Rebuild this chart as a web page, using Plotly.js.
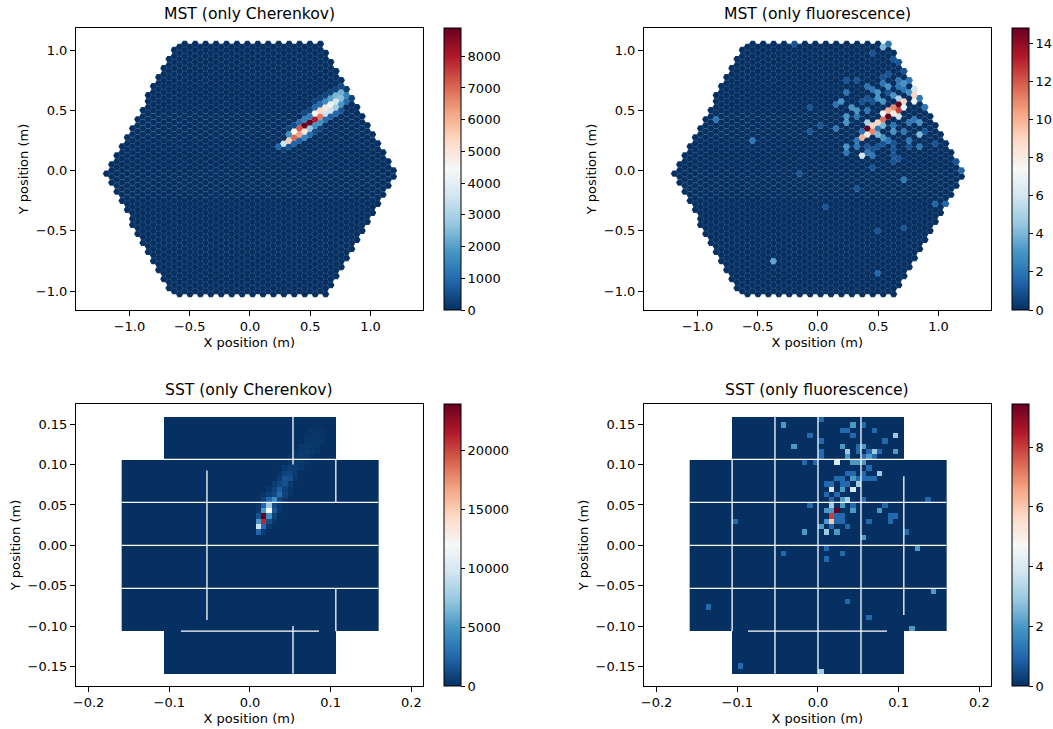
<!DOCTYPE html>
<html><head><meta charset="utf-8">
<script src="https://cdn.plot.ly/plotly-3.0.1.min.js"></script>
<style>html,body{margin:0;padding:0;background:#fff}</style></head>
<body><div id="chart" style="width:1053px;height:729px"></div>
<script>
// ---- data -----------------------------------------------------------------
const panelTitles = ["MST (only Cherenkov)", "MST (only fluorescence)", "SST (only Cherenkov)", "SST (only fluorescence)"];
const xLabel = "X position (m)";
const yLabel = "Y position (m)";
const cbarMax = [8890, 14.8, 23900, 9.45];
const cbarTicks = [[0,1000,2000,3000,4000,5000,6000,7000,8000],[0,2,4,6,8,10,12,14],[0,5000,10000,15000,20000],[0,2,4,6,8]];
const mstTicksX = [-1,-0.5,0,0.5,1];
const mstTicksY = [-1,-0.5,0,0.5,1];
const sstTicksX = [-0.2,-0.1,0,0.1,0.2];
const sstTicksY = [-0.15,-0.1,-0.05,0,0.05,0.1,0.15];

// MST pixels above the pedestal: [x (m), y (m), photo-electrons]
const mstCherenkov = [[.235,.203,900],[.277,.225,3500],[.324,.250,5500],[.324,.300,1700],[.368,.275,7000],[.368,.325,4450],
[.409,.300,6300],[.409,.350,7200],[.454,.325,5000],[.454,.375,8900],[.495,.400,8900],[.539,.425,8000],[.584,.449,6800],
[.539,.474,4500],[.584,.499,5400],[.625,.524,5000],[.669,.549,4300],[.714,.574,3600],[.495,.350,2700],[.539,.375,1700],
[.584,.400,1700],[.625,.474,3500],[.625,.425,1000],[.669,.499,3500],[.714,.524,2900],[.755,.549,1800],[.799,.574,1000],
[.669,.599,2000],[.714,.624,2400],[.755,.649,2300],[.799,.674,2000],[.755,.599,2600],[.799,.624,1500],[.625,.574,1600],
[.584,.549,1000],[.539,.524,900],[.714,.474,900],[.755,.499,600],[.669,.449,800],[.368,.225,800],[.409,.250,800],
[.454,.275,1500],[.324,.200,600],[.277,.176,300],[.495,.300,1000],[.539,.325,500],[.584,.350,300],[.324,.350,300],
[.368,.375,400],[.409,.400,1000],[.454,.425,1400],[.495,.449,1300],[.454,.475,400],[.495,.500,300],[.539,.574,300],
[.584,.600,300],[.625,.624,300],[.669,.649,300],[.714,.674,300],[.755,.699,400],[.799,.724,400],[.841,.674,500],
[.841,.624,300],[.841,.724,200]];

const mstFluorescence = [[.534,1.028,4],[.578,1.05,2],[.448,.978,1],[.622,.925,1],[.667,.900,1],[.711,.823,1],[.232,.751,1],
[.318,.751,1],[.534,.779,1],[.578,.779,1],[.404,.701,2],[.534,.723,2],[.578,.701,3],[.667,.751,2],[.711,.723,3],[.752,.751,2],
[.667,.701,2],[.711,.674,2],[.797,.674,6],[.752,.649,3],[.448,.674,2],[.492,.649,3],[.232,.649,2],[.188,.577,3],[.144,.552,2],
[.404,.599,1],[.362,.577,1],[.448,.552,1],[.274,.527,3],[.318,.502,3],[.232,.452,3],[.232,.400,3],[.318,.452,2],[.404,.502,2],
[.492,.577,3],[.534,.577,3],[.578,.649,1],[.622,.627,3],[.667,.599,5],[.797,.627,9],[.797,.577,7],[.841,.599,2],[.882,.527,2],
[.708,.577,9],[.667,.552,15],[.622,.527,11],[.578,.502,10],[.534,.475,7],[.578,.452,15],[.622,.475,8],[.667,.502,12.5],
[.708,.527,7],[.667,.452,6],[.534,.425,11.5],[.492,.400,9],[.448,.375,9],[.404,.400,5],[.404,.350,15],[.362,.325,2],[.492,.350,2],
[.534,.375,4],[.362,.275,10],[.404,.300,8],[.448,.325,11],[.492,.300,4],[.534,.275,3],[.622,.325,3],[.622,.375,2],[.708,.325,2],
[.797,.425,2],[.841,.400,3],[.752,.400,2],[.841,.300,4],[.752,.253,2],[.841,.198,2],[.232,.198,3],[.232,.148,2],[.318,.198,2],
[.362,.123,6],[.404,.148,2],[.448,.123,3],[.448,.198,1],[.404,.225,1],[.318,.253,2],[.534,.225,1],[.622,.170,1],[.667,.098,1],
[.448,.032,2],[.144,.350,2],[.017,.375,1],[.492,.225,1],[.578,.253,2],[.882,.325,1],[.971,.225,1],[1.148,.073,1],
[-.548,.248,2],[-.158,-.024,1],[-.072,.322,1],[.448,.126,2],[.492,.203,1],[.448,.026,1],[.622,.225,1],[.622,.176,1],[.622,.126,1],
[.622,.076,1],[.708,-.073,2],[.752,.198,1],[.968,.225,1],[.968,-.275,1.5],[1.054,-.275,1.5],[1.142,.076,1],[1.187,0,1.5],
[.321,-.151,1],[.061,-.300,1],[.492,-.499,1],[.708,-.474,1],[-.373,-.748,3.5],[.492,-.851,1.5],[-.202,1.05,1],[-.069,.524,1],
[.017,.375,1],[-.069,.325,1],[-.849,.425,2]];

// SST pixels above the pedestal: [column, row from the top, value]
const sstCherenkov = [[25,21,2400],[26,21,500],[25,20,9500],[26,20,2600],[27,20,400],[25,19,5000],[26,19,21000],[27,19,1300],[28,19,300],
[25,18,1500],[26,18,23900],[27,18,4500],[28,18,800],[25,17,300],[26,17,5000],[27,17,12000],[28,17,1800],[29,17,400],
[25,16,200],[26,16,2400],[27,16,7500],[28,16,1200],[29,16,300],[26,15,700],[27,15,2400],[28,15,4500],[29,15,1000],[30,15,300],
[26,14,200],[27,14,700],[28,14,1200],[29,14,2600],[30,14,900],[31,14,300],[27,13,300],[28,13,800],[29,13,2000],[30,13,700],[31,13,200],
[28,12,500],[29,12,1000],[30,12,1400],[31,12,500],[29,11,500],[30,11,1500],[31,11,1300],[32,11,300],[29,10,300],[30,10,900],[31,10,1000],[32,10,500],
[30,9,400],[31,9,600],[32,9,500],[33,9,300],[31,8,300],[32,8,400],[33,8,350],[34,8,200],[31,7,200],[32,7,400],[33,7,500],[34,7,400],[35,7,200],
[32,6,300],[33,6,400],[34,6,500],[35,6,350],[36,6,200],[33,5,300],[34,5,400],[35,5,350],[36,5,250],[34,4,300],[35,4,300],[36,4,300],[37,4,200],
[34,3,200],[35,3,250],[36,3,300],[37,3,200],[35,2,200],[36,2,200],[37,2,150]];

const sstFluorescence = [[24,0,1],[17,1,2],[30,1,2],[32,1,1],[28,2,1],[29,2,1],[34,2,1],[22,3,1],[30,3,1],[38,3,3],[24,4,1],[36,4,1],
[19,5,2],[28,5,2],[31,5,1],[32,5,2],[29,6,3],[24,6,1],[31,6,1],[33,6,1],[34,6,3],[35,6,1],[38,6,2],[24,7,1],[29,7,2],[32,7,1],[33,7,2],[34,7,1],
[21,8,1],[23,8,1],[27,8,4],[30,8,2],[31,8,2],[32,8,2],[33,9,1],[29,10,1],[30,10,1],[32,10,1],[35,10,3],
[27,11,1],[28,11,1],[30,11,2],[31,11,1],[32,11,1],[33,11,1],[34,11,1],[25,12,1],[26,12,1],[28,12,1],[29,12,1],[31,12,3],
[26,13,4],[28,13,2],[30,13,4],[25,14,1],[27,14,1],[26,15,1],[28,15,2],[29,15,3],[32,15,1],[44,15,1],
[22,16,1],[26,16,3],[28,16,2],[30,16,1],[36,16,1],[25,17,2],[26,17,2],[27,17,9.4],[30,17,2],[35,17,2],
[26,18,8],[27,18,1],[28,18,1],[37,18,1],[38,18,1],[8,19,1],[25,19,2],[26,19,6],[27,19,1],[28,19,1],[33,19,1],[37,19,1],
[24,20,2],[26,20,1],[29,20,1],[21,21,2],[25,21,3],[27,21,2],[40,21,1],[32,22,2],
[25,24,1],[42,24,2],[17,25,1],[28,25,1],[25,26,1],[45,32,2],[3,35,1],[29,34,1],[33,37,1],[41,39,2],[9,46,1],[24,47,3]];

// Module seams of the SST camera, metres: [fixed coordinate, from, to]
const sstChSeamsH = [[.1064,-.159,.159],[.0533,-.159,.159],[0,-.159,.159],[-.0533,-.159,.159],[-.1064,-.0855,.0855]];
const sstChSeamsV = [[-.0533,-.0926,.0926],[.0533,.1,.159],[.0533,-.159,-.1],[.1064,.0533,.1064],[.1064,-.1064,-.0533]];
const sstFlSeamsH = [[.1064,-.159,.159],[.0533,-.159,.159],[0,-.159,.159],[-.0533,-.159,.159],[-.1064,-.0867,.0855]];
const sstFlSeamsV = [[-.1064,-.1064,.1064],[-.0533,-.159,.159],[0,-.159,.159],[.0533,-.159,.159],[.1064,-.0863,.0855]];

const rdbuR = [[0,"#053061"],[.1,"#2166ac"],[.2,"#4393c3"],[.3,"#92c5de"],[.4,"#d1e5f0"],[.5,"#f7f7f7"],[.6,"#fddbc7"],[.7,"#f4a582"],[.8,"#d6604d"],[.9,"#b2182b"],[1,"#67001f"]];

// ---- camera geometry -------------------------------------------------------
function mstCamera(){
  const xs=[],ys=[];
  for(let k=-28;k<28;k++){
    const x=(k+.5)*.0433, odd=Math.abs(k)%2===1;
    for(let n=-22;n<23;n++){
      const y=odd? n*.05 : .025+n*.05;
      if(y>1.055||y<-1.03) continue;
      if(y>1.763*(1.182-Math.abs(x))+.03) continue;
      if(y<-1.763*(1.19-Math.abs(x))-.07) continue;
      xs.push(x);ys.push(y);
    }
  }
  return {xs,ys};
}
function mstValues(cam,pix){
  const v=cam.xs.map(()=>0);
  pix.forEach(p=>{
    let best=0,d=1e9;
    cam.xs.forEach((x,i)=>{const e=(x-p[0])**2+(cam.ys[i]-p[1])**2;if(e<d){d=e;best=i;}});
    v[best]=p[2];
  });
  return v;
}
function sstGrid(pix){
  const z=[];
  for(let r=0;r<48;r++){
    const row=[];
    for(let c=0;c<48;c++){
      const corner=(c<8||c>=40)&&(r<8||r>=40);
      row.push(corner?null:0);
    }
    z.push(row);
  }
  pix.forEach(p=>{z[47-p[1]][p[0]]=p[2];});
  return z;
}
const sstEdges=[];for(let i=0;i<=48;i++)sstEdges.push(-.159+i*.318/48);
function seamXY(h,v){
  const x=[],y=[];
  h.forEach(s=>{x.push(s[1],s[2],null);y.push(s[0],s[0],null);});
  v.forEach(s=>{x.push(s[0],s[0],null);y.push(s[1],s[2],null);});
  return {x,y};
}

// ---- layout helpers --------------------------------------------------------
const W=1053,H=729;
const FONT="DejaVu Sans, sans-serif";
const boxes=[[75.5,28],[643.5,28],[75.5,404],[643.5,404]];
const PW=347.5,PH=282;
const TICK=13;
function cbar(i){
  const b=boxes[i];
  return {x:(b[0]+368.5)/W,xanchor:"left",xpad:0,ypad:0,y:1-(b[1]+PH/2)/H,yanchor:"middle",len:PH/H,lenmode:"fraction",
    thickness:17,thicknessmode:"pixels",outlinewidth:1,outlinecolor:"#000",
    tickmode:"array",tickvals:cbarTicks[i],ticktext:cbarTicks[i].map(String),ticks:"outside",ticklen:4,tickwidth:1,tickcolor:"#000",
    tickfont:{family:FONT,size:TICK,color:"#000"}};
}
const cam=mstCamera();
function mstTrace(i,pix,ax,ay){
  return {type:"scatter",mode:"markers",x:cam.xs,y:cam.ys,xaxis:ax,yaxis:ay,hoverinfo:"skip",showlegend:false,
    marker:{symbol:"hexagon2",size:7.4,color:mstValues(cam,pix),colorscale:rdbuR,cmin:0,cmax:cbarMax[i],showscale:true,colorbar:cbar(i),line:{width:0.5,color:"rgba(255,255,255,0.17)"}}};
}
function sstTrace(i,pix,ax,ay){
  return {type:"heatmap",x:sstEdges,y:sstEdges,z:sstGrid(pix),xaxis:ax,yaxis:ay,hoverinfo:"skip",
    colorscale:rdbuR,zmin:0,zmax:cbarMax[i],showscale:true,colorbar:cbar(i)};
}
function seamTrace(h,v,ax,ay){
  const s=seamXY(h,v);
  return {type:"scatter",mode:"lines",x:s.x,y:s.y,xaxis:ax,yaxis:ay,hoverinfo:"skip",showlegend:false,connectgaps:false,line:{color:"#fff",width:1.3}};
}
const data=[
  mstTrace(0,mstCherenkov,"x","y"),
  mstTrace(1,mstFluorescence,"x2","y2"),
  sstTrace(2,sstCherenkov,"x3","y3"),
  sstTrace(3,sstFluorescence,"x4","y4"),
  seamTrace(sstChSeamsH,sstChSeamsV,"x3","y3"),
  seamTrace(sstFlSeamsH,sstFlSeamsV,"x4","y4")
];
function axis(common){
  return Object.assign({showgrid:false,zeroline:false,showline:true,mirror:true,linecolor:"#000",linewidth:1,ticks:"outside",ticklen:4.5,tickwidth:1,tickcolor:"#000",
    tickfont:{family:FONT,size:TICK,color:"#000"},tickmode:"array",automargin:false},common);
}
const layout={width:W,height:H,margin:{l:0,r:0,t:0,b:0},paper_bgcolor:"#fff",plot_bgcolor:"#fff",showlegend:false,
  font:{family:FONT,color:"#000"},annotations:[]};
boxes.forEach((b,i)=>{
  const n=i===0?"":String(i+1);
  const mst=i<2;
  const xr=mst?[-1.448,1.436]:[-.2162,.2144];
  const yr=mst?[-1.157,1.183]:[-.1743,.1751];
  layout["xaxis"+n]=axis({domain:[b[0]/W,(b[0]+PW)/W],anchor:"y"+n,range:xr,
    tickvals:mst?mstTicksX:sstTicksX,ticktext:(mst?mstTicksX:sstTicksX).map(v=>(v<0?"\u2212":"")+Math.abs(v).toFixed(1)),
    title:{text:xLabel,font:{family:FONT,size:TICK,color:"#000"},standoff:4}});
  layout["yaxis"+n]=axis({domain:[1-(b[1]+PH)/H,1-b[1]/H],anchor:"x"+n,range:yr,
    tickvals:mst?mstTicksY:sstTicksY,ticktext:(mst?mstTicksY:sstTicksY).map(v=>(v<0?"\u2212":"")+Math.abs(v).toFixed(mst?1:2)),
    title:{text:yLabel,font:{family:FONT,size:TICK,color:"#000"},standoff:4}});
  layout.annotations.push({text:panelTitles[i],xref:"paper",yref:"paper",x:(b[0]+PW/2)/W,y:1-(b[1]-3)/H,xanchor:"center",yanchor:"bottom",showarrow:false,
    font:{family:FONT,size:15.6,color:"#000"}});
});
Plotly.newPlot("chart",data,layout,{displayModeBar:false,staticPlot:true});
</script></body></html>
